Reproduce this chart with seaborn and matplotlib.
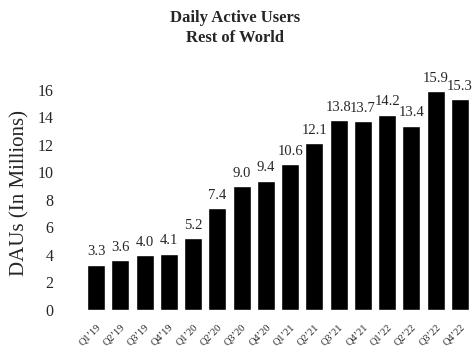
import matplotlib
matplotlib.use("Agg")
import matplotlib.pyplot as plt
import seaborn as sns
import pandas as pd

quarters = ["Q1\u201919", "Q2\u201919", "Q3\u201919", "Q4\u201919",
            "Q1\u201920", "Q2\u201920", "Q3\u201920", "Q4\u201920",
            "Q1\u201921", "Q2\u201921", "Q3\u201921", "Q4\u201921",
            "Q1\u201922", "Q2\u201922", "Q3\u201922", "Q4\u201922"]
daus = [3.3, 3.6, 4.0, 4.1, 5.2, 7.4, 9.0, 9.4, 10.6, 12.1, 13.8, 13.7, 14.2, 13.4, 15.9, 15.3]
yticks = [0, 2, 4, 6, 8, 10, 12, 14, 16]

sns.set_style("white")
plt.rcParams['font.family'] = ['Liberation Serif', 'DejaVu Serif']

df = pd.DataFrame({"quarter": quarters, "daus": daus})

fig = plt.figure(figsize=(4.74, 3.54), dpi=100)
ax = fig.add_axes([0.177, 0.1243, 0.819, 0.661])
sns.barplot(data=df, x="quarter", y="daus", color="black", width=0.74,
            saturation=1, ax=ax)
for p, v in zip(ax.patches, daus):
    ax.text(p.get_x() + p.get_width() / 2, v + 0.45, f"{v:.1f}",
            ha="center", va="bottom", fontsize=10.5)
ax.set_ylim(0, 17)
ax.set_xlim(-0.5, len(quarters) - 0.5)
ax.set_yticks(yticks)
ax.set_yticklabels([str(t) for t in yticks], fontsize=11.5)
ax.tick_params(axis="x", labelsize=7.5, rotation=45, length=0, pad=9)
ax.tick_params(axis="y", length=0, pad=22)
for lbl in ax.get_xticklabels():
    lbl.set_ha("right")
    lbl.set_rotation_mode("anchor")
ax.set_xlabel("")
ax.set_ylabel("DAUs (In Millions)", fontsize=15, labelpad=6)
for s in ax.spines.values():
    s.set_visible(False)
fig.text(0.496, 0.972, "Daily Active Users\nRest of World", ha="center", va="top",
         fontsize=12, fontweight="bold", linespacing=1.3)
fig.savefig("out.png", dpi=100)
